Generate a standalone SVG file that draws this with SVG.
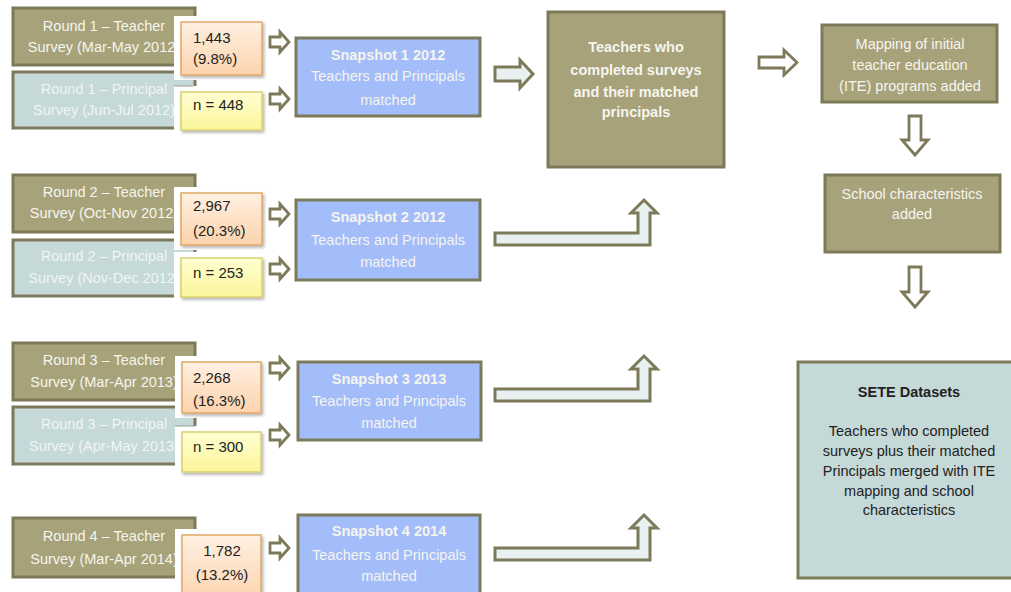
<svg xmlns="http://www.w3.org/2000/svg" width="1011" height="592" viewBox="0 0 1011 592">
<defs>
<linearGradient id="gOr" x1="0" y1="0" x2="0" y2="1"><stop offset="0" stop-color="#fff0e2"/><stop offset="1" stop-color="#fcd3ac"/></linearGradient>
<linearGradient id="gYe" x1="0" y1="0" x2="0" y2="1"><stop offset="0" stop-color="#ffffd2"/><stop offset="1" stop-color="#fbf59a"/></linearGradient>
<filter id="sh" x="-10%" y="-10%" width="130%" height="130%"><feDropShadow dx="1.5" dy="2" stdDeviation="1.5" flood-color="#000" flood-opacity="0.3"/></filter>
<path id="sa" d="M0,5 H10 V0 L19,10 L10,20 V15 H0 Z"/>
</defs>
<style>
text{font-family:"Liberation Sans",Arial,sans-serif;font-size:14.5px;text-anchor:middle}
.ol{fill:#a7a27a;stroke:#7d7a5a;stroke-width:3}
.pr{fill:#c5d9d8;stroke:#7d7a5a;stroke-width:3}
.sn{fill:#a3bcfa;stroke:#7d7a5a;stroke-width:3}
.se{fill:#c5d9d8;stroke:#7d7a5a;stroke-width:3}
.or{fill:url(#gOr);stroke:#e0a868;stroke-width:1.5;filter:url(#sh)}
.ye{fill:url(#gYe);stroke:#d8cf70;stroke-width:1.5;filter:url(#sh)}
.wb{fill:#fff}
.wt{fill:#f6f5ee}
.pt{fill:#f0f5f5}
.dk{fill:#222;text-anchor:start;font-size:15px}
.dc{fill:#222}
.cn{font-size:15px}
.b{font-weight:bold}
.ar{fill:#fff;stroke:#7d7a5a;stroke-width:2.8}
.al{fill:#e8f0f0;stroke:#7d7a5a;stroke-width:3}
.tick{stroke:#9a9a9a;stroke-width:1}
</style>

<g id="round1-teacher"><rect class="ol" x="13" y="8" width="182" height="57"/><text class="wt" x="104" y="31">Round 1 – Teacher</text><text class="wt" x="104" y="52">Survey (Mar-May 2012)</text></g>
<g id="round1-principal"><rect class="pr" x="13" y="72" width="182" height="56"/><text class="pt" x="104" y="94">Round 1 – Principal</text><text class="pt" x="104" y="115">Survey (Jun-Jul 2012)</text></g>
<g id="round2-teacher"><rect class="ol" x="13" y="175" width="182" height="57"/><text class="wt" x="104" y="197">Round 2 – Teacher</text><text class="wt" x="104" y="218">Survey (Oct-Nov 2012)</text></g>
<g id="round2-principal"><rect class="pr" x="13" y="240" width="182" height="56"/><text class="pt" x="104" y="261">Round 2 – Principal</text><text class="pt" x="104" y="283">Survey (Nov-Dec 2012)</text></g>
<g id="round3-teacher"><rect class="ol" x="13" y="343" width="182" height="57"/><text class="wt" x="104" y="365">Round 3 – Teacher</text><text class="wt" x="104" y="387">Survey (Mar-Apr 2013)</text></g>
<g id="round3-principal"><rect class="pr" x="13" y="407" width="182" height="57"/><text class="pt" x="104" y="429">Round 3 – Principal</text><text class="pt" x="104" y="451">Survey (Apr-May 2013)</text></g>
<g id="round4-teacher"><rect class="ol" x="13" y="518" width="182" height="59"/><text class="wt" x="104" y="541">Round 4 – Teacher</text><text class="wt" x="104" y="564">Survey (Mar-Apr 2014)</text></g>

<g id="count1-teacher"><rect class="wb" x="174" y="16" width="94" height="64"/><rect class="or" x="181" y="22" width="81" height="53"/><text class="dk" x="193" y="43">1,443</text><text class="dk" x="193" y="64">(9.8%)</text></g>
<g id="count1-principal"><rect class="wb" x="174" y="86" width="94" height="50"/><line class="tick" x1="174" y1="86" x2="193" y2="86"/><rect class="ye" x="181" y="92" width="81" height="38"/><text class="dk" x="193" y="110">n = 448</text></g>
<g id="count2-teacher"><rect class="wb" x="174" y="187" width="94" height="63"/><rect class="or" x="181" y="193" width="81" height="52"/><text class="dk" x="193" y="211">2,967</text><text class="dk" x="193" y="236">(20.3%)</text></g>
<g id="count2-principal"><rect class="wb" x="174" y="252" width="94" height="50"/><rect class="ye" x="181" y="258" width="81" height="39"/><text class="dk" x="193" y="278">n = 253</text></g>
<g id="count3-teacher"><rect class="wb" x="175" y="356" width="93" height="62"/><rect class="or" x="182" y="362" width="79" height="51"/><text class="dk" x="193" y="383">2,268</text><text class="dk" x="193" y="406">(16.3%)</text></g>
<g id="count3-principal"><rect class="wb" x="175" y="426" width="93" height="50"/><line class="tick" x1="175" y1="426" x2="195" y2="426"/><rect class="ye" x="182" y="432" width="79" height="40"/><text class="dk" x="193" y="452">n = 300</text></g>
<g id="count4-teacher"><rect class="wb" x="175" y="529" width="93" height="70"/><rect class="or" x="182" y="535" width="79" height="70"/><text class="dc cn" x="222" y="556">1,782</text><text class="dc cn" x="222" y="580">(13.2%)</text></g>

<g id="snapshot1"><rect class="sn" x="296" y="38" width="184" height="78"/><text class="wt b" x="388" y="60">Snapshot 1 2012</text><text class="wt" x="388" y="81">Teachers and Principals</text><text class="wt" x="388" y="105">matched</text></g>
<g id="snapshot2"><rect class="sn" x="296" y="200" width="184" height="80"/><text class="wt b" x="388" y="222">Snapshot 2 2012</text><text class="wt" x="388" y="245">Teachers and Principals</text><text class="wt" x="388" y="267">matched</text></g>
<g id="snapshot3"><rect class="sn" x="298" y="362" width="183" height="78"/><text class="wt b" x="389" y="384">Snapshot 3 2013</text><text class="wt" x="389" y="406">Teachers and Principals</text><text class="wt" x="389" y="428">matched</text></g>
<g id="snapshot4"><rect class="sn" x="298" y="515" width="182" height="90"/><text class="wt b" x="389" y="536">Snapshot 4 2014</text><text class="wt" x="389" y="560">Teachers and Principals</text><text class="wt" x="389" y="581">matched</text></g>

<g id="matched-teachers"><rect class="ol" x="548" y="12" width="176" height="155"/><text class="wt b" x="636" y="52">Teachers who</text><text class="wt b" x="636" y="75">completed surveys</text><text class="wt b" x="636" y="97">and their matched</text><text class="wt b" x="636" y="117">principals</text></g>
<g id="ite-mapping"><rect class="ol" x="822" y="25" width="175" height="77"/><text class="wt" x="910" y="49">Mapping of initial</text><text class="wt" x="910" y="70">teacher education</text><text class="wt" x="910" y="91">(ITE) programs added</text></g>
<g id="school-characteristics"><rect class="ol" x="825" y="175" width="175" height="77"/><text class="wt" x="912" y="199">School characteristics</text><text class="wt" x="912" y="219">added</text></g>
<g id="sete-datasets"><rect class="se" x="798" y="362" width="220" height="216"/><text class="dc b" x="909" y="397">SETE Datasets</text><text class="dc" x="909" y="436">Teachers who completed</text><text class="dc" x="909" y="456">surveys plus their matched</text><text class="dc" x="909" y="476">Principals merged with ITE</text><text class="dc" x="909" y="496">mapping and school</text><text class="dc" x="909" y="515">characteristics</text></g>

<g id="connectors">
<use href="#sa" class="ar" x="270" y="32"/>
<use href="#sa" class="ar" x="270" y="89"/>
<use href="#sa" class="ar" x="270" y="204"/>
<use href="#sa" class="ar" x="270" y="259"/>
<use href="#sa" class="ar" x="270" y="358"/>
<use href="#sa" class="ar" x="270" y="425"/>
<use href="#sa" class="ar" x="270" y="538"/>
<path class="al" d="M495,67 H520 V60 L533,74 L520,88 V81 H495 Z"/>
<path class="al" d="M495,233 H638 V213 H631 L644,200 L657,213 H650 V245 H495 Z"/>
<path class="al" d="M495,389 H638 V369 H631 L644,356 L657,369 H650 V401 H495 Z"/>
<path class="al" d="M495,548 H638 V528 H631 L644,515 L657,528 H650 V560 H495 Z"/>
<path class="ar" d="M759,57 H784 V50 L797,62.5 L784,75 V68 H759 Z"/>
<path class="ar" d="M909,116 H921 V140 H928 L915,155 L902,140 H909 Z"/>
<path class="ar" d="M909,267 H921 V292 H928 L915,307 L902,292 H909 Z"/>
</g>
</svg>
